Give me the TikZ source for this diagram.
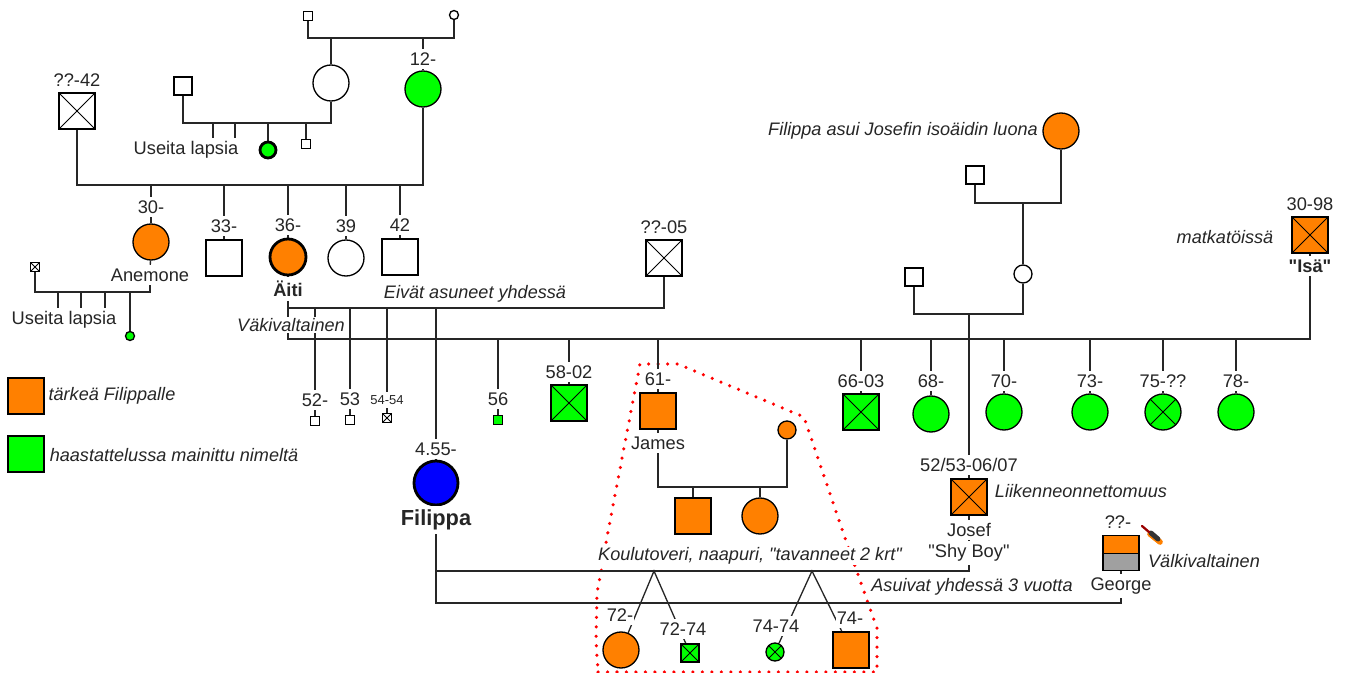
\documentclass[tikz,border=0pt]{standalone}
\usepackage{fontspec}
\setmainfont{Liberation Sans}[Ligatures=TeXOff]
\usepackage{tikz}
\usetikzlibrary{backgrounds}
\definecolor{tarkea}{HTML}{FF8000}
\definecolor{mainittu}{HTML}{00FF00}
\definecolor{harmaa}{HTML}{A0A0A0}
\newcommand{\pnode}[3]{\node(#1)[#2] at (#3) {}}
\newcommand{\ytext}[3]{\node(#1)[yrs] at (#2) {#3}}
\newcommand{\ntext}[3]{\node(#1)[note] at (#2) {#3}}

\begin{document}
\begin{tikzpicture}[
        x=0.02cm, y=-0.02cm,
        every node/.style={font=\fontsize{10.4}{12}\selectfont},
        male/.style={rectangle,draw=black,line width=0.75pt,inner sep=0pt},
        female/.style={circle,draw=black,line width=0.75pt,inner sep=0pt},
        big/.style={minimum size=7.2mm},
        mid/.style={minimum size=3.6mm},
        wee/.style={minimum size=1.8mm},
        strong/.style={line width=1.6pt},
        dead/.style={path picture={
            \draw[line width=0.5pt] (path picture bounding box.north west) -- (path picture bounding box.south east);
            \draw[line width=0.5pt] (path picture bounding box.north east) -- (path picture bounding box.south west);}},
        yrs/.style={fill=white,inner xsep=0.5pt,inner ysep=2pt,text=black!85},
        note/.style={fill=white,inner xsep=1pt,inner ysep=0.5pt,font=\fontsize{10.3}{12}\selectfont\itshape,text=black!85},
        line/.style={line width=0.75pt,draw=black!85},
        rajaus/.style={draw=red,line width=2pt,line cap=round,dash pattern=on 0pt off 1.9mm}
      ]
      \useasboundingbox (0,0) rectangle (1347,673);

      % Great-grandparents and the generation below them
      \pnode{gpm}{male,wee}{308,16};
      \pnode{gpf}{female,wee}{454,15};
      \pnode{gma}{female,big}{331,83};
      \ytext{y12}{423,59}{12-};
      \pnode{mum12}{female,big,fill=mainittu}{423,89};
      \pnode{gmapart}{male,mid}{183,86};
      \ytext{y42}{77,80}{??-42};
      \pnode{dad42}{male,big,dead}{77,111};

      % Children of gma
      \ytext{useita1}{186,150}{Useita lapsia};
      \pnode{cousgreen}{female,strong,fill=mainittu,minimum size=3.2mm}{268,150};
      \pnode{couswee}{male,wee}{306,144};

      % Row of Aiti and her siblings
      \ytext{y30}{151,207}{30-};
      \pnode{anemone}{female,big,fill=tarkea}{151,242};
      \ytext{anemlab}{150,275}{Anemone};
      \ytext{y33}{224,226}{33-};
      \pnode{sib33}{male,big}{224,258};
      \ytext{y36}{288,225}{36-};
      \pnode{aiti}{female,big,strong,fill=tarkea}{288,257};
      \node(aitilab)[yrs,font=\fontsize{10.4}{12}\selectfont\bfseries] at (288,289) {Äiti};
      \ytext{y39}{346,226}{39};
      \pnode{sib39}{female,big}{346,258};
      \ytext{y42b}{400,225}{42};
      \pnode{sib42}{male,big}{400,257};

      % Anemone's partner and children
      \pnode{anempart}{male,wee,dead}{35,267};
      \ytext{useita2}{64,320}{Useita lapsia};
      \pnode{anemgreen}{female,wee,fill=mainittu}{130,336};

      % Legend
      \pnode{legor}{male,big,fill=tarkea}{26,396};
      \ntext{legortxt}{112,396}{tärkeä Filippalle};
      \pnode{leggr}{male,big,fill=mainittu}{26,454};
      \ntext{leggrtxt}{174,455}{haastattelussa mainittu nimeltä};

      % The two men of Aiti
      \ntext{eivat}{475,294}{Eivät asuneet yhdessä};
      \ntext{vakiv}{291,325}{Väkivaltainen};
      \ytext{y05}{664,227}{??-05};
      \pnode{dad05}{male,big,dead}{664,258};
      \ytext{y98}{1310,204}{30-98};
      \pnode{isa}{male,big,dead,fill=tarkea}{1310,235};
      \ntext{matka}{1225,237}{matkatöissä};
      \node(isalab)[yrs,font=\fontsize{10.4}{12}\selectfont\bfseries] at (1310,266) {"Isä"};

      % Half siblings: first father
      \ytext{y52}{315,400}{52-};
      \pnode{hs52}{male,wee}{315,421};
      \ytext{y53}{350,399}{53};
      \pnode{hs53}{male,wee}{350,420};
      \node(y54)[yrs,font=\fontsize{7.4}{9}\selectfont] at (387,400) {54-54};
      \pnode{hs54}{male,wee,dead}{387,418};
      \ytext{y455}{436,449}{4.55-};
      \pnode{filippa}{female,strong,fill=blue,minimum size=8.8mm}{436,483};
      \node(filab)[yrs,font=\fontsize{12.4}{14}\selectfont\bfseries] at (436,520) {Filippa};

      % Half siblings: second father
      \ytext{y56}{498,399}{56};
      \pnode{hs56}{male,wee,fill=mainittu}{498,420};
      \ytext{y58}{569,372}{58-02};
      \pnode{hs58}{male,big,dead,fill=mainittu}{569,403};
      \ytext{y61}{658,379}{61-};
      \pnode{james}{male,big,fill=tarkea}{658,411};
      \ytext{jameslab}{658,443}{James};
      \ytext{y66}{861,381}{66-03};
      \pnode{hs66}{male,big,dead,fill=mainittu}{861,412};
      \ytext{y68}{931,381}{68-};
      \pnode{hs68}{female,big,fill=mainittu}{931,414};
      \ytext{y70}{1004,381}{70-};
      \pnode{hs70}{female,big,fill=mainittu}{1004,412};
      \ytext{y73}{1090,381}{73-};
      \pnode{hs73}{female,big,fill=mainittu}{1090,412};
      \ytext{y75}{1163,381}{75-??};
      \pnode{hs75}{female,big,dead,fill=mainittu}{1163,412};
      \ytext{y78}{1236,381}{78-};
      \pnode{hs78}{female,big,fill=mainittu}{1236,412};

      % James' family
      \pnode{jamespart}{female,mid,fill=tarkea}{787,430};
      \pnode{jamesson}{male,big,fill=tarkea}{693,516};
      \pnode{jamesdau}{female,big,fill=tarkea}{760,516};

      % Josef's side
      \ntext{asui}{903,131}{Filippa asui Josefin isoäidin luona};
      \pnode{isoaiti}{female,big,fill=tarkea}{1061,131};
      \pnode{isoisa}{male,mid}{975,175};
      \pnode{josmum}{female,mid}{1023,274};
      \pnode{josdad}{male,mid}{914,277};
      \ytext{yjosef}{969,465}{52/53-06/07};
      \pnode{josef}{male,big,dead,fill=tarkea}{969,497};
      \ntext{liik}{1081,491}{Liikenneonnettomuus};
      \ytext{joseflab}{969,530}{Josef};
      \ytext{shyboy}{969,553}{"Shy Boy"};

      % George
      \ytext{ygeorge}{1118,522}{??-};
      \node(georgetop)[male,fill=tarkea,minimum width=7.2mm,minimum height=3.5mm] at (1121,544.5) {};
      \node(georgebot)[male,fill=harmaa,minimum width=7.2mm,minimum height=3.5mm] at (1121,562) {};
      \ytext{georgelab}{1121,586}{George};
      \ntext{valki}{1204,561}{Välkivaltainen};
      \draw[tarkea,line width=3.2pt,line cap=round] (1150,534) -- (1160,542);
      \draw[black!80,line width=2.8pt,line cap=round] (1151,533) -- (1158,539);
      \draw[red!60!black,line width=1.3pt,line cap=round] (1142,526) -- (1149,532);

      % Relations and the children of Filippa
      \ntext{koulu}{750,556}{Koulutoveri, naapuri, "tavanneet 2 krt"};
      \ntext{asuivat}{972,587}{Asuivat yhdessä 3 vuotta};
      \ytext{y72}{620,615}{72-};
      \pnode{kid72}{female,big,fill=tarkea}{621,650};
      \ytext{y7274}{683,629}{72-74};
      \pnode{kid7274}{male,mid,dead,fill=mainittu}{690,653};
      \ytext{y7474}{776,626}{74-74};
      \pnode{kid7474}{female,mid,dead,fill=mainittu}{775,652};
      \ytext{y74}{850,618}{74-};
      \pnode{kid74}{male,big,fill=tarkea}{851,650};

      % Junctions of the family lines
      \coordinate (fam1) at (331,38);
      \coordinate (fam2) at (268,123);
      \coordinate (fam3) at (224,185);
      \coordinate (fam4) at (81,292);
      \coordinate (fam5) at (1023,203);
      \coordinate (fam6) at (969,314);
      \coordinate (fam7) at (693,487);
      \coordinate (uline) at (288,308);
      \coordinate (lline) at (288,339);
      \coordinate (apex1) at (654,571);
      \coordinate (apex2) at (812,571);
      \coordinate (asuline) at (700,603);
      \coordinate (tick1) at (213,138);
      \coordinate (tick2) at (235,138);
      \coordinate (tick3) at (58,308);
      \coordinate (tick4) at (81,308);
      \coordinate (tick5) at (105,308);

      % Everything below is put behind the nodes
      \begin{scope}[on background layer]
        % Red border round the school friend's family
        \draw[rajaus] (598,672) -- (877,672) -- (877,628) -- (846,541) -- (804,417) -- (678,364)
              -- (640,364) -- (607,537) -- (601,572) -- (597,593) -- (596,640) -- cycle;

        % Couples
        \draw[line] (gpm) |- (fam1) -| (gpf);
        \draw[line] (gmapart) |- (fam2) -| (gma);
        \draw[line] (dad42) |- (fam3) -| (mum12);
        \draw[line] (anempart) |- (fam4) -| (anemlab);
        \draw[line] (isoaiti) |- (fam5) -| (isoisa);
        \draw[line] (josdad) |- (fam6) -| (josmum);
        \draw[line] (jameslab) |- (fam7) -| (jamespart);
        \draw[line] (aitilab) -- (lline) -| (isa);
        \draw[line] (uline) -| (dad05);
        \draw[line] (filab) |- (apex1) -| (shyboy);
        \draw[line] (filab) |- (asuline) -| (georgelab);

        % Children
        \draw[line] (gma) -- (fam1);
        \draw[line] (mum12) |- (fam1);
        \foreach \kid in {tick1,tick2,cousgreen,couswee}
          \draw[line] (\kid) |- (fam2);
        \foreach \kid in {anemone,sib33,aiti,sib39,sib42}
          \draw[line] (\kid) |- (fam3);
        \foreach \kid in {tick3,tick4,tick5,anemgreen}
          \draw[line] (\kid) |- (fam4);
        \draw[line] (josmum) -- (fam5);
        \draw[line] (josef) |- (fam6);
        \foreach \kid in {jamesson,jamesdau}
          \draw[line] (\kid) |- (fam7);
        \foreach \kid in {hs52,hs53,hs54,filippa}
          \draw[line] (\kid) |- (uline);
        \foreach \kid in {hs56,hs58,james,hs66,hs68,hs70,hs73,hs75,hs78}
          \draw[line] (\kid) |- (lline);

        % Short links through the name labels
        \draw[line] (anemone) -- (anemlab);
        \draw[line] (aiti) -- (aitilab);
        \draw[line] (isa) -- (isalab);
        \draw[line] (james) -- (jameslab);
        \draw[line] (filippa) -- (filab);
        \draw[line] (josef) -- (shyboy);
        \draw[line] (georgebot) -- (georgelab);

        % Twin forks
        \draw[line] (kid72) -- (apex1) -- (kid7274);
        \draw[line] (kid7474) -- (apex2) -- (kid74);
      \end{scope}
    \end{tikzpicture}
\end{document}
